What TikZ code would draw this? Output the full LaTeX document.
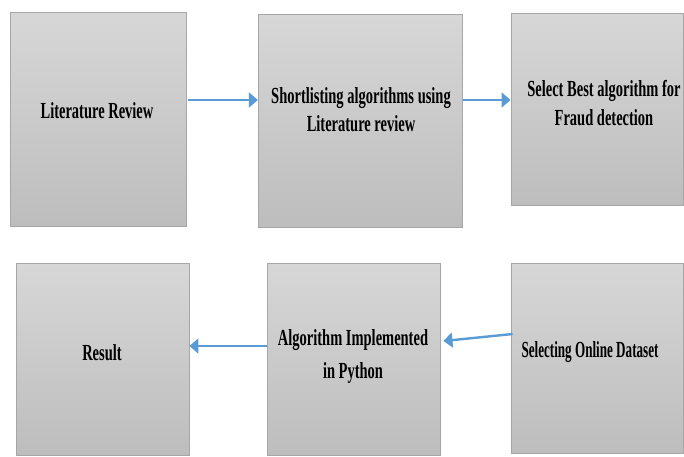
\documentclass[tikz,border=0pt]{standalone}
\usepackage{fontspec}
\setmainfont{Liberation Serif}
\usetikzlibrary{arrows.meta}
\definecolor{boxtop}{HTML}{D7D7D7}
\definecolor{boxbot}{HTML}{BDBDBD}
\definecolor{boxedge}{HTML}{A6A6A6}
\definecolor{arrblue}{HTML}{5B9BD5}
\newcommand{\lbl}[3][0.63]{\scalebox{#1}[1]{\fontsize{23}{#2}\selectfont\bfseries\begin{tabular}[t]{@{}c@{}}#3\end{tabular}}}
\tikzset{
  stepbox/.style={draw=boxedge, line width=0.9pt, top color=boxtop, bottom color=boxbot, inner sep=0pt, rectangle},
  lbltext/.style={anchor=base, inner sep=0pt, text=black},
  arr/.style={draw=arrblue, line width=2.4pt, -{Triangle[length=9pt,width=15pt]}}
}
\begin{document}
\begin{tikzpicture}[x=1pt,y=-1pt]
\useasboundingbox (0,0) rectangle (684,456);
% boxes
\node[stepbox, minimum width=176pt, minimum height=214pt] (b1) at (98.5,119) {};
\node[stepbox, minimum width=204pt, minimum height=213pt] (b2) at (360.3,120.5) {};
\node[stepbox, minimum width=172pt, minimum height=192pt] (b3) at (597,109) {};
\node[stepbox, minimum width=173pt, minimum height=192pt] (b4) at (102.5,359) {};
\node[stepbox, minimum width=173pt, minimum height=192pt] (b5) at (353.5,359) {};
\node[stepbox, minimum width=172pt, minimum height=190pt] (b6) at (597,358) {};
% texts
\node[lbltext] (t1) at (97,118) {\lbl{28}{Literature Review}};
\node[lbltext] (t2) at (361,103) {\lbl{28}{Shortlisting algorithms using\\Literature review}};
\node[lbltext] (t3) at (604,96) {\lbl{29}{Select Best algorithm for\\Fraud detection}};
\node[lbltext] (t4) at (102,360) {\lbl{28}{Result}};
\node[lbltext] (t5) at (353,345) {\lbl{33}{Algorithm Implemented\\in Python}};
\node[lbltext] (t6) at (590,357) {\lbl[0.57]{28}{Selecting Online Dataset}};
% arrows
\draw[arr] ([xshift=1.5pt,yshift=19pt]b1.east) -- ([yshift=20.5pt]b2.west);
\draw[arr] ([yshift=20.5pt]b2.east) -- ([yshift=9pt]b3.west);
\draw[arr] ([xshift=2pt,yshift=24pt]b6.west) -- ([xshift=3pt,yshift=18pt]b5.east);
\draw[arr] ([yshift=13pt]b5.west) -- ([yshift=13pt]b4.east);
\end{tikzpicture}
\end{document}
